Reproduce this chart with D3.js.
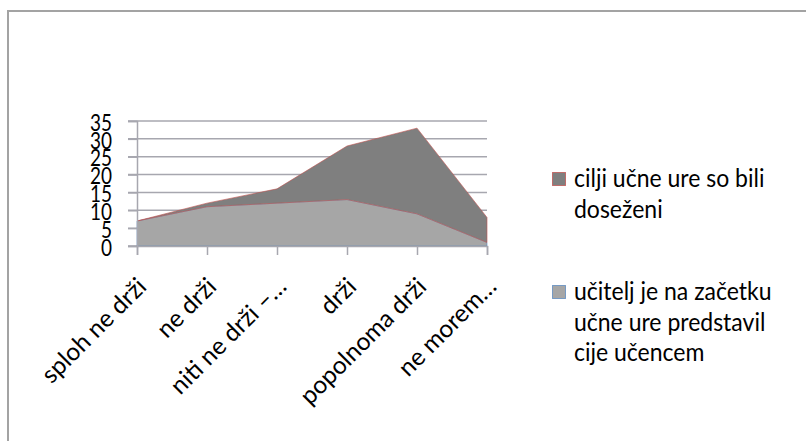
<!DOCTYPE html>
<html>
<head>
<meta charset="utf-8">
<script src="https://cdn.jsdelivr.net/npm/d3@7/dist/d3.min.js"></script>
<style>
  html, body { margin: 0; padding: 0; background: #fff; }
  svg { display: block; }
  text { font-family: Lato, "Open Sans", sans-serif; fill: #000; }
</style>
</head>
<body>
<svg id="chart" width="806" height="441"></svg>
<script>
// Survey answers (x categories)
const categories = ["sploh ne drži", "ne drži", "niti ne drži –…", "drži", "popolnoma drži", "ne morem…"];
// Series values (stacked)
const ucitelj = [7, 11, 12, 13, 9, 1];
const cilji = [0, 1, 4, 15, 24, 7];
const seriesNames = ["učitelj je na začetku učne ure predstavil cije učencem", "cilji učne ure so bili doseženi"];
const yTicks = [0, 5, 10, 15, 20, 25, 30, 35];

const legendLines = [
  ["cilji učne ure so bili", "doseženi"],
  ["učitelj je na začetku", "učne ure predstavil", "cije učencem"]
];

const svg = d3.select("#chart");

// outer frame
svg.append("rect")
  .attr("x", 8).attr("y", 11)
  .attr("width", 820).attr("height", 460)
  .attr("fill", "#fff")
  .attr("stroke", "#a3a3a3")
  .attr("stroke-width", 2);

const x = d3.scalePoint().domain(categories).range([137, 487]);
const y = d3.scaleLinear().domain([0, 35]).range([246, 121]);

const rows = categories.map((c, i) => ({ cat: c, ucitelj: ucitelj[i], cilji: cilji[i] }));
const stacked = d3.stack().keys(["ucitelj", "cilji"])(rows);

// gridlines
svg.append("g")
  .selectAll("line")
  .data(yTicks)
  .join("line")
  .attr("x1", 128).attr("x2", 487)
  .attr("y1", d => y(d)).attr("y2", d => y(d))
  .attr("stroke", "#a7a7af")
  .attr("stroke-width", 1.5);

// stacked areas
const fills = ["#a6a6a6", "#7f7f7f"];
const strokes = ["rgba(79,129,189,0.7)", "rgba(192,80,77,0.75)"];
const area = d3.area()
  .x(d => x(d.data.cat))
  .y0(d => y(d[0]))
  .y1(d => y(d[1]));

svg.append("g")
  .selectAll("path")
  .data(stacked)
  .join("path")
  .attr("d", area)
  .attr("fill", (d, i) => fills[i])
  .attr("stroke", (d, i) => strokes[i])
  .attr("stroke-width", 0.8);

// y axis
const yAxis = d3.axisLeft(y).tickValues(yTicks).tickSize(9).tickPadding(16);
const gy = svg.append("g").attr("transform", "translate(137,0)").call(yAxis);
gy.select(".domain").attr("stroke", "#a7a7af").attr("stroke-width", 1.5);
gy.selectAll(".tick line").attr("stroke", "#a7a7af").attr("stroke-width", 1.5);
gy.selectAll(".tick text")
  .attr("font-size", 19)
  .attr("font-family", "Lato, sans-serif")
  .attr("fill", "#000")
  .attr("x", null)
  .attr("dy", null)
  .attr("dominant-baseline", "central")
  .attr("transform", "translate(-25,0) scale(1,1.18)");

// x axis
const xAxis = d3.axisBottom(x).tickSize(9).tickFormat("");
const gx = svg.append("g").attr("transform", "translate(0,246)").call(xAxis);
gx.select(".domain").attr("stroke", "#a7a7af").attr("stroke-width", 1.5);
gx.selectAll(".tick line").attr("stroke", "#a7a7af").attr("stroke-width", 1.5);

// rotated category labels
svg.append("g")
  .selectAll("text")
  .data(categories)
  .join("text")
  .attr("transform", d => `translate(${x(d) + 11},288) rotate(-45)`)
  .attr("text-anchor", "end")
  .attr("font-size", 24.5)
  .text(d => d);

// legend
const legendTop = [187, 300];
const legendColors = [fills[1], fills[0]];
const legendStrokes = [strokes[1], strokes[0]];
const lg = svg.append("g");
legendLines.forEach((lines, i) => {
  lg.append("rect")
    .attr("x", 552.5).attr("y", legendTop[i] - 14.5)
    .attr("width", 13).attr("height", 13)
    .attr("fill", legendColors[i])
    .attr("stroke", legendStrokes[i])
    .attr("stroke-width", 1);
  lines.forEach((ln, j) => {
    lg.append("text")
      .attr("transform", `translate(574,${legendTop[i] + j * 30.5}) scale(1,1.06)`)
      .attr("font-size", 23)
      .text(ln);
  });
});
</script>
</body>
</html>
